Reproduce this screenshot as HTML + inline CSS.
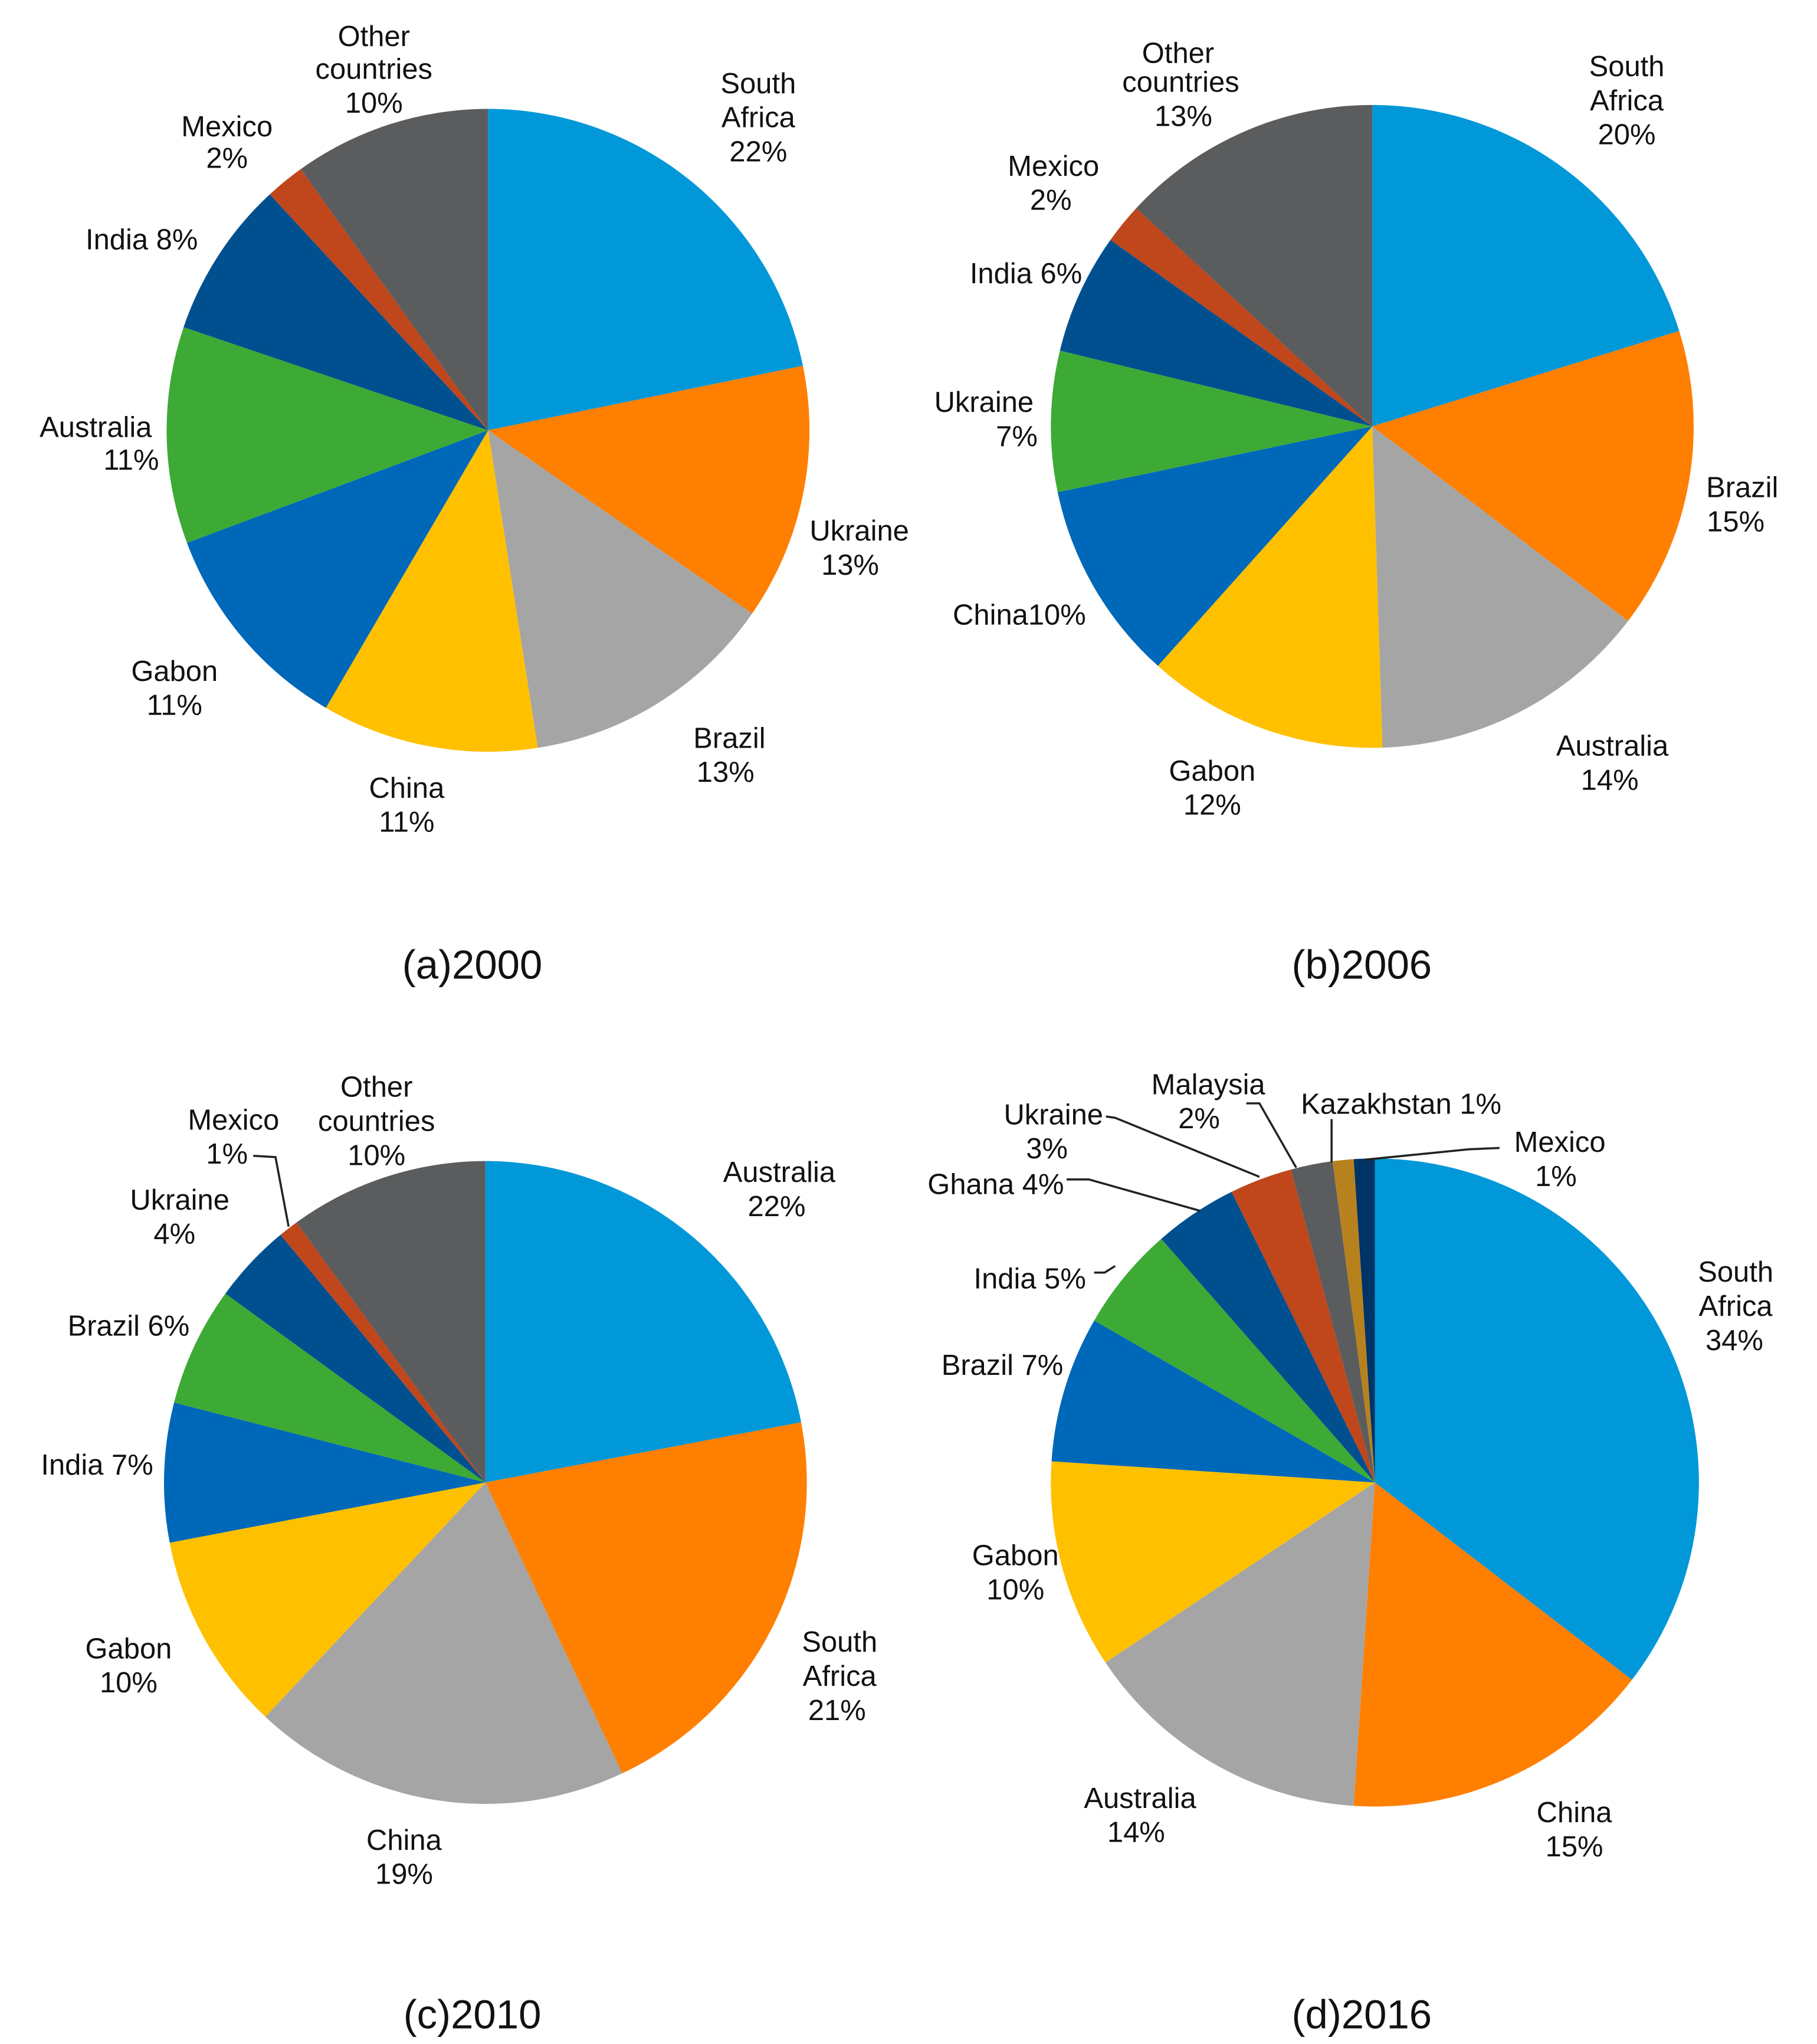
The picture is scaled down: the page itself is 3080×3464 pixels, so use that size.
<!DOCTYPE html>
<html><head><meta charset="utf-8">
<style>
html,body{margin:0;padding:0;background:#fff;}
svg{display:block;}
text{font-family:"Liberation Sans",Arial,sans-serif;font-size:22px;fill:#111;text-anchor:middle;}
.t{font-size:31px;}
</style></head>
<body>
<svg id="chart" width="3080" height="3464" viewBox="0 0 1385 1558" preserveAspectRatio="none" xmlns="http://www.w3.org/2000/svg">
<g id="labels">
<!-- (a) -->
<text x="285" y="35">Other</text>
<text x="285" y="60">countries</text>
<text x="285" y="86">10%</text>
<text x="578" y="71">South</text>
<text x="578" y="97">Africa</text>
<text x="578" y="123">22%</text>
<text x="173" y="104">Mexico</text>
<text x="173" y="128">2%</text>
<text x="108" y="190">India 8%</text>
<text x="73" y="333">Australia</text>
<text x="100" y="358">11%</text>
<text x="655" y="412">Ukraine</text>
<text x="648" y="438">13%</text>
<text x="133" y="519">Gabon</text>
<text x="133" y="545">11%</text>
<text x="556" y="570">Brazil</text>
<text x="553" y="596">13%</text>
<text x="310" y="608">China</text>
<text x="310" y="634">11%</text>
<text class="t" x="360" y="746">(a)2000</text>
<!-- (b) -->
<text x="898" y="48">Other</text>
<text x="900" y="70">countries</text>
<text x="902" y="96">13%</text>
<text x="1240" y="58">South</text>
<text x="1240" y="84">Africa</text>
<text x="1240" y="110">20%</text>
<text x="803" y="134">Mexico</text>
<text x="801" y="160">2%</text>
<text x="782" y="216">India 6%</text>
<text x="750" y="314">Ukraine</text>
<text x="775" y="340">7%</text>
<text x="777" y="476">China10%</text>
<text x="1328" y="379">Brazil</text>
<text x="1323" y="405">15%</text>
<text x="924" y="595">Gabon</text>
<text x="924" y="621">12%</text>
<text x="1229" y="576">Australia</text>
<text x="1227" y="602">14%</text>
<text class="t" x="1038" y="746">(b)2006</text>
<!-- (c) -->
<text x="287" y="836">Other</text>
<text x="287" y="862">countries</text>
<text x="287" y="888">10%</text>
<text x="594" y="901">Australia</text>
<text x="592" y="927">22%</text>
<text x="178" y="861">Mexico</text>
<text x="173" y="887">1%</text>
<text x="137" y="922">Ukraine</text>
<text x="133" y="948">4%</text>
<text x="98" y="1018">Brazil 6%</text>
<text x="74" y="1124">India 7%</text>
<text x="98" y="1264">Gabon</text>
<text x="98" y="1290">10%</text>
<text x="640" y="1259">South</text>
<text x="640" y="1285">Africa</text>
<text x="638" y="1311">21%</text>
<text x="308" y="1410">China</text>
<text x="308" y="1436">19%</text>
<text class="t" x="360" y="1546">(c)2010</text>
<!-- (d) -->
<text x="921" y="834">Malaysia</text>
<text x="914" y="860">2%</text>
<text x="1068" y="849">Kazakhstan 1%</text>
<text x="803" y="857">Ukraine</text>
<text x="798" y="883">3%</text>
<text x="1189" y="878">Mexico</text>
<text x="1186" y="904">1%</text>
<text x="759" y="910">Ghana 4%</text>
<text x="785" y="982">India 5%</text>
<text x="764" y="1048">Brazil 7%</text>
<text x="1323" y="977">South</text>
<text x="1323" y="1003">Africa</text>
<text x="1322" y="1029">34%</text>
<text x="774" y="1193">Gabon</text>
<text x="774" y="1219">10%</text>
<text x="869" y="1378">Australia</text>
<text x="866" y="1404">14%</text>
<text x="1200" y="1389">China</text>
<text x="1200" y="1415">15%</text>
<text class="t" x="1038" y="1546">(d)2016</text>
</g>
<g id="leaders" fill="none" stroke="#222" stroke-width="1.6">
<polyline points="193,881 210,882 220,935"/>
<polyline points="843,851 850,852 960,897"/>
<polyline points="950,841 960,841 988,890"/>
<polyline points="1015,853 1015,886"/>
<polyline points="1143,875 1120,876 1040,884"/>
<polyline points="813,899 830,899 915,923"/>
<polyline points="834,970 842,970 850,965"/>
</g>
</svg>
<script>
// (a) 2000
const catsA = ["South Africa","Ukraine","Brazil","China","Gabon","Australia","India","Mexico","Other countries"];
const valsA = [22,13,13,11,11,11,8,2,10];
// (b) 2006
const catsB = ["South Africa","Brazil","Australia","Gabon","China","Ukraine","India","Mexico","Other countries"];
const valsB = [20,15,14,12,10,7,6,2,13];
// (c) 2010
const catsC = ["Australia","South Africa","China","Gabon","India","Brazil","Ukraine","Mexico","Other countries"];
const valsC = [22,21,19,10,7,6,4,1,10];
// (d) 2016
const catsD = ["South Africa","China","Australia","Gabon","Brazil","India","Ghana","Ukraine","Malaysia","Kazakhstan","Mexico"];
const valsD = [34,15,14,10,7,5,4,3,2,1,1];

const pal9 = ["#0098D8","#FF7F00","#A5A5A5","#FFC000","#0068B8","#3DAA35","#005090","#C0461C","#5B5C5E"];
const palD = ["#0098D8","#FF7F00","#A5A5A5","#FFC000","#0068B8","#3DAA35","#005090","#C0461C","#5B5C5E","#B7821E","#003366"];

const NS = "http://www.w3.org/2000/svg";
const svg = document.getElementById("chart");
const labels = document.getElementById("labels");

function drawPie(id, cats, vals, cx, cy, r, colors){
  const g = document.createElementNS(NS,"g");
  
  
  const total = vals.reduce((a,b)=>a+b,0);
  let acc = 0;
  vals.forEach((v,i)=>{
    const a0 = acc/total*2*Math.PI; acc += v;
    const a1 = acc/total*2*Math.PI;
    const x0 = cx + r*Math.sin(a0), y0 = cy - r*Math.cos(a0);
    const x1 = cx + r*Math.sin(a1), y1 = cy - r*Math.cos(a1);
    const large = (a1-a0) > Math.PI ? 1 : 0;
    const p = document.createElementNS(NS,"path");
    p.setAttribute("d",`M${cx},${cy} L${x0},${y0} A${r},${r} 0 ${large} 1 ${x1},${y1} Z`);
    p.setAttribute("fill", colors[i % colors.length]);
    
    
    g.appendChild(p);
  });
  svg.insertBefore(g, labels);
}
drawPie("a", catsA, valsA, 372, 328, 245, pal9);
drawPie("b", catsB, valsB, 1046, 325, 245, pal9);
drawPie("c", catsC, valsC, 370, 1130, 245, pal9);
drawPie("d", catsD, valsD, 1048, 1130, 247, palD);
</script>
</body></html>
